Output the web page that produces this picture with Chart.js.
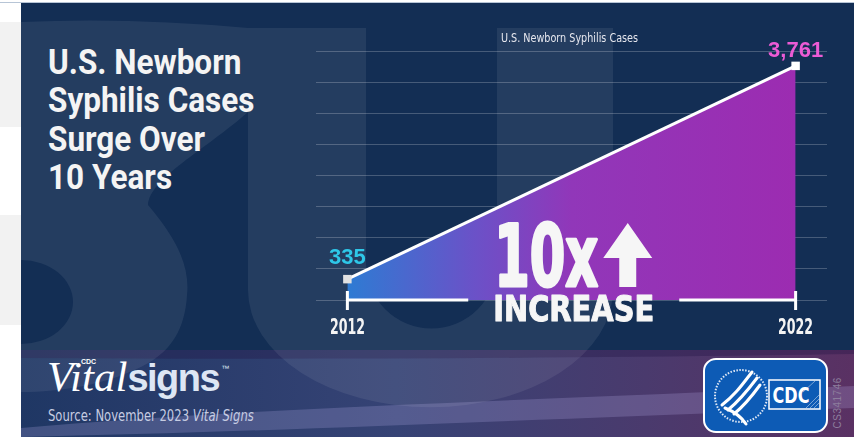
<!DOCTYPE html>
<html>
<head>
<meta charset="utf-8">
<script src="https://cdn.jsdelivr.net/npm/chart.js@4.4.1/dist/chart.umd.min.js"></script>
<style>
  html, body { margin: 0; padding: 0; background: #fff; }
  #page { position: relative; width: 854px; height: 437px; overflow: hidden; background: #fff; }
  #bg { position: absolute; left: 0; top: 0; }
  #title {
    position: absolute; left: 48px; top: 44px; color: #f4f4f4; white-space: nowrap;
    font: bold 35px/38.3px Roboto, "DejaVu Sans Condensed", sans-serif;
    transform: scaleX(0.9); transform-origin: 0 0;
  }
  #logo { position: absolute; left: 47px; top: 352px; white-space: nowrap; }
  #logo .vital { font: italic 43px "Liberation Serif", "DejaVu Serif", serif; color: #fff; }
  #logo .signs { font: bold 38px "Liberation Sans", Arial, sans-serif; color: #dde6f4; letter-spacing: -1.5px; }
  #logo .cdc { position: absolute; left: 34px; top: 6px; font: bold 7px "Liberation Sans", sans-serif; color: #fff; }
  #logo .tm { font: 8px "Liberation Sans", sans-serif; color: #dde6f4; vertical-align: 20px; margin-left: 2px; }
  #source {
    position: absolute; left: 48px; top: 409px; color: #c6cce2; white-space: nowrap;
    font: 15px/15px "DejaVu Sans Condensed", sans-serif;
    transform: scaleX(0.86); transform-origin: 0 0;
  }
  #code {
    position: absolute; left: 811px; top: 397px; width: 52px; color: #8c7d9c;
    font: 10px "Liberation Sans", sans-serif; letter-spacing: 0.5px;
    transform: rotate(-90deg); transform-origin: center;
  }
  #chart { position: absolute; left: 0; top: 0; }
</style>
</head>
<body>
<div id="page">
  <svg id="bg" width="854" height="437" viewBox="0 0 854 437">
    <defs>
      <linearGradient id="foot" x1="0" y1="0" x2="1" y2="0">
        <stop offset="0" stop-color="#1f3764"/>
        <stop offset="0.45" stop-color="#364375"/>
        <stop offset="0.75" stop-color="#4a3a6d"/>
        <stop offset="1" stop-color="#5a3163"/>
      </linearGradient>
      <clipPath id="panelClip"><rect x="21" y="3" width="833" height="434"/></clipPath>
    </defs>
    <!-- left margin, faint grey letter edge -->
    <rect x="0" y="22" width="21" height="105" fill="#f2f2f2"/>
    <rect x="0" y="215" width="21" height="110" fill="#f2f2f2"/>
    <line x1="0" y1="2.5" x2="854" y2="2.5" stroke="#b7c5d6" stroke-width="1"/>
    <!-- panel -->
    <rect x="21" y="3" width="833" height="434" fill="#132e54"/>
    <!-- footer band -->
    <rect x="21" y="350" width="833" height="87" fill="url(#foot)"/>
    <path d="M21,350 H854 V354 C600,358 300,360 21,358 Z" fill="rgba(35,20,70,0.35)"/>
    <path d="M21,428 C220,410 480,402 854,386 L854,408 C520,420 260,432 21,437 Z" fill="rgba(190,180,240,0.22)"/>
    <!-- big faint "SU" letters -->
    <g clip-path="url(#panelClip)" fill="rgba(255,255,255,0.075)">
      <path d="M21,22 Q130,17 248,28 L248,112 C205,150 150,178 148,205 C178,240 190,268 187,295 C185,330 170,350 150,362 C110,385 60,392 21,392 Z"/>
      <path d="M248,28 H366 V263 A65,65 0 0 0 497,263 V28 H613 V290 A182,117 0 0 1 248,290 Z"/>
    </g>
    <ellipse cx="21" cy="302" rx="52" ry="42" fill="#132e54" clip-path="url(#panelClip)"/>
    <!-- CDC logo -->
    <rect x="704" y="359" width="123" height="73" rx="12" fill="#0d5bb5" stroke="#ffffff" stroke-width="2"/>
    <circle cx="741" cy="396" r="26" fill="none" stroke="#dfe8f6" stroke-width="2" stroke-dasharray="1.5 1.5"/>
    <g fill="none" stroke="#ffffff" stroke-linecap="round">
      <path d="M752,372 C742,385 735,395 722,405" stroke-width="3"/>
      <path d="M757,378 C748,390 740,400 728,410" stroke-width="3"/>
      <path d="M760,385 C752,396 745,405 734,414" stroke-width="3"/>
      <path d="M725,408 C735,412 742,418 746,424" stroke-width="3"/>
    </g>
    <rect x="769" y="380" width="51" height="29" fill="none" stroke="#ffffff" stroke-width="1.5"/>
    <g stroke="rgba(255,255,255,0.55)" stroke-width="0.8">
      <line x1="806" y1="408" x2="819" y2="395"/>
      <line x1="810" y1="408" x2="819" y2="399"/>
      <line x1="814" y1="408" x2="819" y2="403"/>
      <line x1="803" y1="392" x2="815" y2="381"/>
    </g>
    <text x="791" y="403" text-anchor="middle" fill="#ffffff" transform="translate(791,0) scale(0.85,1) translate(-791,0)"
          font-family="DejaVu Sans Condensed, sans-serif" font-weight="bold" font-size="21">CDC</text>
  </svg>

  <div id="title">U.S. Newborn<br>Syphilis Cases<br>Surge Over<br>10 Years</div>

  <div id="logo"><span class="cdc">CDC</span><span class="vital">Vital</span><span class="signs">signs</span><span class="tm">™</span></div>
  <div id="source">Source: November 2023 <i>Vital Signs</i></div>
  <div id="code">CS341746</div>

  <canvas id="chart" width="854" height="437"></canvas>
</div>

<script>
  const years = [2012, 2022];
  const cases = [335, 3761];
  const labelColors = ['#2ec7e8', '#ec5bd5'];
  const yTicks = [0, 500, 1000, 1500, 2000, 2500, 3000, 3500, 4000];
  const chartTitle = 'U.S. Newborn Syphilis Cases';
  const bigText = '10x';
  const subText = 'INCREASE';
  const increaseAt = 2017.05; // where the "10x INCREASE" badge sits on the time axis

  const COND = '"DejaVu Sans Condensed", sans-serif';
  const SANS = '"Liberation Sans", Arial, sans-serif';

  // draw text squeezed horizontally to a given width (the original uses a condensed face)
  function fitText(ctx, text, x, y, font, width, align, heavy) {
    ctx.save();
    ctx.font = font;
    const w = ctx.measureText(text).width;
    const s = width / w;
    const left = align === 'center' ? x - width / 2 : x;
    ctx.translate(left, y);
    ctx.scale(s, 1);
    ctx.textAlign = 'left';
    ctx.textBaseline = 'alphabetic';
    if (heavy) {
      ctx.strokeStyle = ctx.fillStyle;
      ctx.lineWidth = heavy;
      ctx.lineJoin = 'round';
      ctx.strokeText(text, 0, 0);
    }
    ctx.fillText(text, 0, 0);
    ctx.restore();
  }

  function areaGradient(ctx, chart) {
    const x = chart.scales.x;
    const x0 = x.getPixelForValue(years[0]);
    const x1 = x.getPixelForValue(years[years.length - 1]);
    const g = ctx.createLinearGradient(x0, 0, x1, 0);
    g.addColorStop(0, '#2e7bd3');
    g.addColorStop(0.28, '#6a52c8');
    g.addColorStop(0.5, '#9137b9');
    g.addColorStop(1, '#9c2cb1');
    return g;
  }

  const annotations = {
    id: 'annotations',
    afterDatasetsDraw(chart) {
      const { ctx, chartArea, scales: { x, y } } = chart;
      const meta = chart.getDatasetMeta(0);
      const y0 = y.getPixelForValue(0);
      const xa = x.getPixelForValue(years[0]);
      const xb = x.getPixelForValue(years[years.length - 1]);
      const cx = x.getPixelForValue(increaseAt);

      ctx.save();
      // chart title above the plot
      ctx.fillStyle = '#e6e7ee';
      fitText(ctx, chartTitle, (chartArea.left + chartArea.right) / 2 - 2, chartArea.top - 9,
        '12px ' + COND, 137, 'center');

      // tick labels of the time axis, from the scale's own ticks
      ctx.fillStyle = '#f4f4f4';
      x.ticks.forEach(t => {
        fitText(ctx, String(t.value), x.getPixelForValue(t.value), y0 + 34,
          'bold 22px ' + COND, 35, 'center');
      });

      // bracket along the axis, broken for the INCREASE word
      const incW = 161;
      const gapL = cx - incW / 2 - 25, gapR = cx + incW / 2 + 25;
      ctx.strokeStyle = '#ffffff';
      ctx.lineWidth = 3;
      ctx.beginPath();
      ctx.moveTo(xa, y0); ctx.lineTo(gapL, y0);
      ctx.moveTo(gapR, y0); ctx.lineTo(xb, y0);
      ctx.moveTo(xa, y0 - 9); ctx.lineTo(xa, y0 + 10);
      ctx.moveTo(xb, y0 - 9); ctx.lineTo(xb, y0 + 10);
      ctx.stroke();

      ctx.fillStyle = '#f6f6f6';
      fitText(ctx, subText, cx, y0 + 21, 'bold 36px ' + COND, incW, 'center', 1);

      // "10x" + up arrow
      const left = cx - incW / 2;
      const w10 = 106;
      fitText(ctx, bigText, left + 1, y0 - 14, 'bold 86px ' + COND, w10 - 2, 'left', 3);
      const ax = left + w10 + 4, top = y0 - 77, base = y0 - 13;
      ctx.beginPath();
      ctx.moveTo(ax + 24.5, top);
      ctx.lineTo(ax + 49, top + 35);
      ctx.lineTo(ax + 33, top + 35);
      ctx.lineTo(ax + 33, base);
      ctx.lineTo(ax + 16, base);
      ctx.lineTo(ax + 16, top + 35);
      ctx.lineTo(ax, top + 35);
      ctx.closePath();
      ctx.fill();

      // value labels at the two end points
      ctx.font = 'bold 22px ' + SANS;
      ctx.textAlign = 'center';
      meta.data.forEach((pt, i) => {
        ctx.fillStyle = labelColors[i];
        const dy = i === 0 ? 15 : 9;
        ctx.fillText(cases[i].toLocaleString('en-US'), pt.x, pt.y - dy);
      });
      ctx.restore();
    }
  };

  new Chart(document.getElementById('chart'), {
    type: 'line',
    data: {
      datasets: [{
        label: chartTitle,
        data: years.map((yr, i) => ({ x: yr, y: cases[i] })),
        borderColor: '#ffffff',
        borderWidth: 3,
        tension: 0,
        fill: 'origin',
        backgroundColor: (c) => c.chart.chartArea ? areaGradient(c.chart.ctx, c.chart) : '#9c2cb1',
        pointStyle: 'rect',
        pointRadius: 6,
        pointBorderWidth: 0,
        pointBackgroundColor: ['#e2e2e2', '#ffffff']
      }]
    },
    options: {
      responsive: false,
      animation: false,
      layout: { padding: { left: 316, right: 27, top: 51, bottom: 97 } },
      plugins: {
        legend: { display: false },
        tooltip: { enabled: false },
        title: { display: false }
      },
      scales: {
        x: {
          type: 'linear',
          min: 2011.3,
          max: 2022.7,
          afterBuildTicks: (s) => { s.ticks = years.map(v => ({ value: v })); },
          afterFit: (s) => { s.height = 40; },
          grid: { display: false, drawTicks: false },
          border: { display: false },
          ticks: { display: false }
        },
        y: {
          min: 0,
          max: 4000,
          afterBuildTicks: (s) => { s.ticks = yTicks.map(v => ({ value: v })); },
          afterFit: (s) => { s.width = 0; },
          grid: { color: 'rgba(255,255,255,0.22)', lineWidth: 1, drawTicks: false },
          border: { display: false },
          ticks: { display: false }
        }
      }
    },
    plugins: [annotations]
  });
</script>
</body>
</html>
